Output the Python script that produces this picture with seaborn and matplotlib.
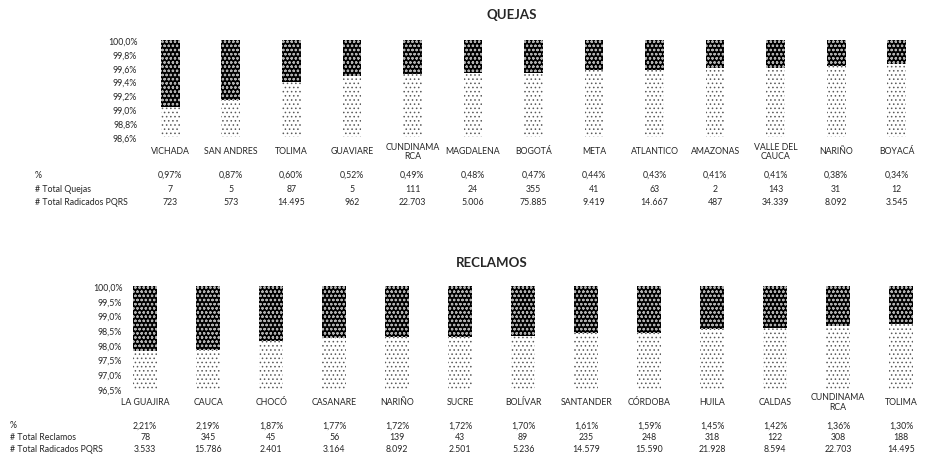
import numpy as np
import pandas as pd
import seaborn as sns
from matplotlib import pyplot as plt
from matplotlib import transforms

# QUEJAS
q_dept = ["VICHADA", "SAN ANDRES", "TOLIMA", "GUAVIARE", "CUNDINAMA\nRCA", "MAGDALENA",
          "BOGOTÁ", "META", "ATLANTICO", "AMAZONAS", "VALLE DEL\nCAUCA", "NARIÑO", "BOYACÁ"]
q_pct = [0.97, 0.87, 0.60, 0.52, 0.49, 0.48, 0.47, 0.44, 0.43, 0.41, 0.41, 0.38, 0.34]
q_count = [7, 5, 87, 5, 111, 24, 355, 41, 63, 2, 143, 31, 12]
q_total = [723, 573, 14495, 962, 22703, 5006, 75885, 9419, 14667, 487, 34339, 8092, 3545]
q_ticks = [98.6, 98.8, 99.0, 99.2, 99.4, 99.6, 99.8, 100.0]

# RECLAMOS
r_dept = ["LA GUAJIRA", "CAUCA", "CHOCÓ", "CASANARE", "NARIÑO", "SUCRE", "BOLÍVAR",
          "SANTANDER", "CÓRDOBA", "HUILA", "CALDAS", "CUNDINAMA\nRCA", "TOLIMA"]
r_pct = [2.21, 2.19, 1.87, 1.77, 1.72, 1.72, 1.70, 1.61, 1.59, 1.45, 1.42, 1.36, 1.30]
r_count = [78, 345, 45, 56, 139, 43, 89, 235, 248, 318, 122, 308, 188]
r_total = [3533, 15786, 2401, 3164, 8092, 2501, 5236, 14579, 15590, 21928, 8594, 22703, 14495]
r_ticks = [96.5, 97.0, 97.5, 98.0, 98.5, 99.0, 99.5, 100.0]


def pct_txt(v, nd=2):
    return f"{v:.{nd}f}%".replace(".", ",")


def num_txt(n):
    return f"{n:,}".replace(",", ".")


sns.set_theme(style="white")
plt.rcParams["font.family"] = ["Lato", "DejaVu Sans"]
plt.rcParams["hatch.linewidth"] = 0.6

W, H = 927, 477
fig = plt.figure(figsize=(W / 100, H / 100), dpi=100)


def draw(rect, xlim, dept, pct, count, total, ticks, title, title_xy, row_y, label_x,
         labels, width, label_pad):
    ax = fig.add_axes(rect)
    df = pd.DataFrame({"dept": dept, "pct": pct})
    df["total"] = 100.0
    df["rest"] = 100.0 - df["pct"]
    # dark segment (full stack), then light remainder drawn over it
    sns.barplot(data=df, x="dept", y="total", ax=ax, color="black", width=width,
                errorbar=None, hatch="oooo", edgecolor="#b0b0b0", linewidth=0)
    sns.barplot(data=df, x="dept", y="rest", ax=ax, color="white", width=width,
                errorbar=None, hatch="....", edgecolor="#5a5a5a", linewidth=0)
    ax.set_ylim(ticks[0], 100.0)
    ax.set_xlim(*xlim)
    ax.set_yticks(ticks)
    ax.set_yticklabels([pct_txt(t, 1) for t in ticks], fontsize=6.3)
    ax.set_xticks(range(len(dept)))
    ax.set_xticklabels(dept, fontsize=6.3, va="center", linespacing=1.0)
    ax.tick_params(axis="x", length=0, pad=label_pad)
    ax.tick_params(axis="y", length=0, pad=2)
    ax.set_xlabel("")
    ax.set_ylabel("")
    sns.despine(ax=ax, left=True, bottom=True)

    fig.text(title_xy[0] / W, 1 - title_xy[1] / H, title, fontsize=9.5, fontweight="bold",
             ha="center", va="center")
    trans = transforms.blended_transform_factory(ax.transData, fig.transFigure)
    rows = [[pct_txt(v) for v in pct], [str(c) for c in count], [num_txt(t) for t in total]]
    for yy, lab, vals in zip(row_y, labels, rows):
        fig.text(label_x / W, 1 - yy / H, lab, fontsize=6.3, ha="left", va="center")
        for i, s in enumerate(vals):
            ax.text(i, 1 - yy / H, s, transform=trans, fontsize=6.3, ha="center", va="center")
    return ax


draw([140 / W, 1 - 138 / H, (W - 140) / W, 97 / H], (-0.5, 12.5),
     q_dept, q_pct, q_count, q_total, q_ticks, "QUEJAS", (512, 15),
     [175, 189, 203], 35, ["%", "# Total Quejas", "# Total Radicados PQRS"], 0.31, 10)

draw([125 / W, 1 - 390 / H, (W - 125) / W, 103 / H], (-0.32, 12.41),
     r_dept, r_pct, r_count, r_total, r_ticks, "RECLAMOS", (492, 263),
     [426, 438, 450], 10, ["%", "# Total Reclamos", "# Total Radicados PQRS"], 0.39, 9)

fig.savefig("out.png", dpi=100)
